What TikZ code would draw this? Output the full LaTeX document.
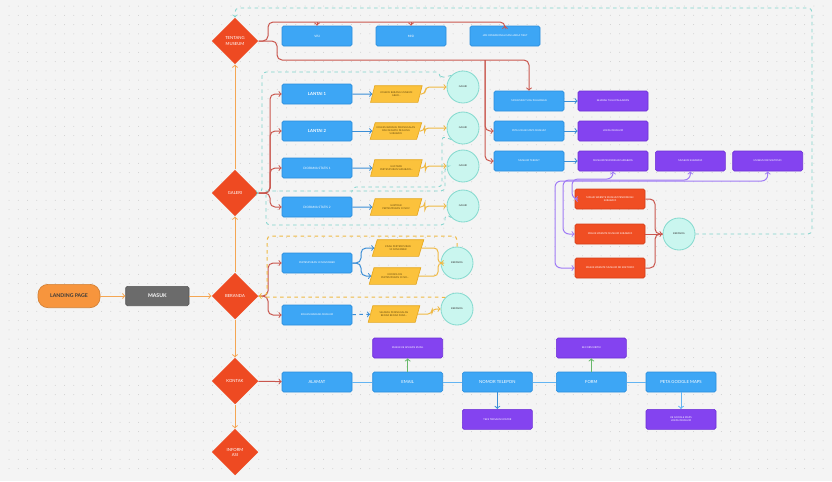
\documentclass[tikz,border=0pt]{standalone}
\usepackage{fontspec}
\setmainfont{Lato}
\usepackage{tikz}
\usetikzlibrary{arrows,shapes,positioning}

\definecolor{canvas}{HTML}{F4F4F4}
\definecolor{dotgrey}{HTML}{CFCFCF}
\definecolor{boxblue}{HTML}{3DA6F5}
\definecolor{boxblueline}{HTML}{2A8DDC}
\definecolor{boxpurple}{HTML}{8443F0}
\definecolor{boxpurpleline}{HTML}{6D30D6}
\definecolor{boxred}{HTML}{F04E23}
\definecolor{boxredline}{HTML}{D63E18}
\definecolor{dred}{HTML}{EE4A22}
\definecolor{slantyellow}{HTML}{FBC23C}
\definecolor{slantline}{HTML}{E5A822}
\definecolor{slanttext}{HTML}{6A4E10}
\definecolor{endteal}{HTML}{CAF6EF}
\definecolor{endline}{HTML}{86DACF}
\definecolor{darktext}{HTML}{3A3A3A}
\definecolor{startorange}{HTML}{F7953D}
\definecolor{masukgrey}{HTML}{6B6B6B}
\definecolor{trunkorange}{HTML}{F4A653}
\definecolor{branchred}{HTML}{C9564E}
\definecolor{flowblue}{HTML}{3B8ED6}
\definecolor{flowlightblue}{HTML}{63B4F2}
\definecolor{flowyellow}{HTML}{EFB944}
\definecolor{flowteal}{HTML}{7FD3CC}
\definecolor{flowpurple}{HTML}{A07CF5}
\definecolor{flowgreen}{HTML}{67B86A}

\newcommand{\szbig}{\fontsize{4.4}{5.2}\selectfont\bfseries}
\newcommand{\szmid}{\fontsize{3.6}{4.3}\selectfont}
\newcommand{\szsml}{\fontsize{2.6}{3.1}\selectfont}
\newcommand{\sztny}{\fontsize{2.1}{2.6}\selectfont}

\begin{document}
\begin{tikzpicture}[x=0.3mm, y=-0.3mm, >=to,
    every node/.style={align=center},
    box/.style={rectangle, rounded corners=0.5mm, minimum width=21mm, minimum height=6mm, inner sep=0.4mm, text=white, line width=0.2mm},
    bluebox/.style={box, fill=boxblue, draw=boxblueline, font=\szsml},
    purplebox/.style={box, fill=boxpurple, draw=boxpurpleline, font=\szsml},
    redbox/.style={box, fill=boxred, draw=boxredline, font=\sztny},
    choice/.style={diamond, fill=dred, text=white, minimum width=14mm, minimum height=14mm, inner sep=0pt, font=\szmid},
    slant/.style={trapezium, trapezium left angle=62, trapezium right angle=118, trapezium stretches=true, fill=slantyellow, draw=slantline, line width=0.2mm, minimum width=15.5mm, minimum height=5mm, inner sep=0.2mm, text=slanttext, font=\sztny},
    endpoint/.style={circle, fill=endteal, draw=endline, line width=0.25mm, minimum size=9.6mm, inner sep=0pt, text=darktext, font=\sztny},
    trunk/.style={draw=trunkorange, line width=0.3mm},
    branch/.style={draw=branchred, line width=0.3mm, rounded corners=1.5mm},
    blueflow/.style={draw=flowblue, line width=0.3mm, rounded corners=1.5mm},
    yellowflow/.style={draw=flowyellow, line width=0.3mm, rounded corners=1.2mm},
    backloop/.style={draw=flowteal, line width=0.25mm, dashed, rounded corners=1.2mm},
    purpleflow/.style={draw=flowpurple, line width=0.3mm, rounded corners=1.8mm}]

  % canvas with dot grid
  \fill[canvas] (0,0) rectangle (832,481);
  \foreach \i in {0,...,88}
    \foreach \j in {0,...,50}
      \fill[dotgrey] (9+\i*9.25,6+\j*9.25) circle (0.15mm);
  \useasboundingbox (0,0) rectangle (832,481);

  % main menu
  \node[choice] (tentang) at (235,41) {TENTANG\\MUSEUM};
  \node[choice] (galeri) at (235,193) {GALERI};
  \node[choice] (beranda) at (235,296) {BERANDA};
  \node[choice] (kontak) at (235,381) {KONTAK};
  \node[choice] (informasi) at (235,452) {INFORM\\ASI};
  \node[rectangle, rounded corners=3mm, fill=startorange, draw=startorange!85!black, line width=0.2mm, minimum width=18.6mm, minimum height=7mm, text=darktext, font=\szbig] (landing) at (69,296) {LANDING PAGE};
  \node[box, fill=masukgrey, draw=masukgrey!80!black, minimum width=19mm, minimum height=5.8mm, font=\szbig] (masuk) [right=7.5mm of landing] {MASUK};

  % tentang museum
  \node[bluebox] (visi) at (317,36) {VISI};
  \node[bluebox] (misi) at (411,36) {MISI};
  \node[bluebox, font=\sztny] (jam) at (505,36) {JAM OPERASIONAL DAN HARGA TIKET};
  \node[bluebox, font=\sztny] (sejarah) at (529,101) {MONUMEN TUGU PAHLAWAN};
  \node[bluebox, font=\sztny] (peta) at (529,131) {PETA LOKASI MAPS MUSEUM};
  \node[bluebox, font=\sztny] (terkait) at (529,161) {MUSEUM TERKAIT};
  \node[purplebox, font=\sztny] (sejarahp) [right=4mm of sejarah] {SEJARAH TUGU PAHLAWAN};
  \node[purplebox, font=\sztny] (lokasip) [right=4mm of peta] {LOKASI MUSEUM};
  \node[purplebox, font=\sztny] (mpend) [right=4mm of terkait] {MUSEUM PENDIDIKAN SURABAYA};
  \node[purplebox, font=\sztny] (msby) [right=2mm of mpend] {MUSEUM SURABAYA};
  \node[purplebox, font=\sztny] (msoet) [right=2mm of msby] {MUSEUM DR SOETOMO};
  \node[redbox] (web1) at (610,199) {MASUK WEBSITE MUSEUM PENDIDIKAN\\SURABAYA};
  \node[redbox] (web2) at (610,234) {MASUK WEBSITE MUSEUM SURABAYA};
  \node[redbox] (web3) at (610,268) {MASUK WEBSITE MUSEUM DR SOETOMO};
  \node[endpoint] (kembali) at (679,234) {BERANDA};

  % galeri
  \node[bluebox, font=\szmid\bfseries] (lantai1) at (317,94) {LANTAI 1};
  \node[bluebox, font=\szmid\bfseries] (lantai2) at (317,131) {LANTAI 2};
  \node[bluebox] (diorama1) at (317,168) {DIORAMA STATIS 1};
  \node[bluebox] (diorama2) at (317,207) {DIORAMA STATIS 2};
  \node[slant] (koleksi1) [right=6mm of lantai1] {KOLEKSI BARANG MUSEUM\\ABAD...};
  \node[slant] (koleksi2) [right=6mm of lantai2] {KOLEKSI BARANG PENINGGALAN\\DAN SENJATA PEJUANG\\SURABAYA};
  \node[slant] (ilustrasi1) [right=6mm of diorama1] {ILUSTRASI\\PERTEMPURAN SURABAYA...};
  \node[slant] (ilustrasi2) [right=6mm of diorama2] {ILUSTRASI\\PERTEMPURAN 10 NOV};
  \node[endpoint] (galeri1) at (463,87) {GALERI};
  \node[endpoint] (galeri2) at (463,128) {GALERI};
  \node[endpoint] (galeri3) at (463,166) {GALERI};
  \node[endpoint] (galeri4) at (463,206) {GALERI};

  % beranda
  \node[bluebox, font=\sztny] (pertempuran) at (317,263) {PERTEMPURAN 10 NOVEMBER};
  \node[bluebox, font=\sztny] (barang) at (317,315) {KOLEKSI BARANG MUSEUM};
  \node[slant] (kisah) at (398,248) {KISAH PERTEMPURAN\\10 NOVEMBER};
  \node[slant] (kronologi) at (395,276) {KRONOLOGI\\PERTEMPURAN 10 NO...};
  \node[slant] (peninggalan) at (394,314) {SEJARAH PENINGGALAN\\BENDA BENDA PADA...};
  \node[endpoint] (beranda1) at (457,263) {BERANDA};
  \node[endpoint] (beranda2) at (457,309) {BERANDA};

  % kontak
  \node[bluebox, font=\szmid] (alamat) at (317,382) {ALAMAT};
  \node[bluebox, font=\szmid] (email) [right=6mm of alamat] {EMAIL};
  \node[bluebox, font=\szmid] (telepon) [right=5.7mm of email] {NOMOR TELEPON};
  \node[bluebox, font=\szmid] (form) [right=7mm of telepon] {FORM};
  \node[bluebox, font=\szmid] (maps) [right=5.7mm of form] {PETA GOOGLE MAPS};
  \node[purplebox, font=\sztny] (emailp) [above=4mm of email] {MASUK KE APLIKASI EMAIL};
  \node[purplebox, font=\sztny] (teleponp) [below=5mm of telepon] {TEKS TERSALIN NOMOR};
  \node[purplebox, font=\sztny] (formp) [above=4mm of form] {KE FORM KRITIK};
  \node[purplebox, font=\sztny] (mapsp) [below=5mm of maps] {KE GOOGLE MAPS\\LOKASI MUSEUM};

  % trunk
  \draw[->, trunk] (landing) edge [] (masuk);
  \draw[->, trunk] (masuk) edge [] (beranda);
  \draw[->, trunk] (beranda) edge [] (galeri);
  \draw[->, trunk] (galeri) edge [] (tentang);
  \draw[->, trunk] (beranda) edge [] (kontak);
  \draw[->, trunk] (kontak) edge [] (informasi);

  % tentang museum links
  \draw[->, branch] (tentang.east) -- (268,41) -- (268,22) -| (jam.north);
  \draw[->, branch] (visi.north |- 0,22) -- (visi.north);
  \draw[->, branch] (misi.north |- 0,22) -- (misi.north);
  \draw[->, branch] (tentang.east) -- (277,41) -- (277,60) -| (sejarah.north);
  \draw[->, branch] (485,60) |- (peta.west);
  \draw[->, branch] (485,60) |- (terkait.west);
  \draw[->, blueflow] (sejarah) edge [] (sejarahp);
  \draw[->, blueflow] (peta) edge [] (lokasip);
  \draw[->, blueflow] (terkait) edge [] (mpend);
  \draw[<->, purpleflow] (mpend.south) |- (572,179) |- (web1.west);
  \draw[<->, purpleflow] (msby.south) |- (563,180) |- (web2.west);
  \draw[<->, purpleflow] (msoet.south) |- (555,181) |- (web3.west);
  \draw[branch] (web1.east) -- (655,199) |- (kembali.west);
  \draw[branch] (web3.east) -- (655,268) |- (kembali.west);
  \draw[->, branch] (web2) edge [] (kembali);
  \draw[->, backloop] (kembali.east) -| (812,8) -| (tentang.north);

  % galeri links
  \draw[->, branch] (galeri.east) -- (270,193) |- (lantai1.west);
  \draw[->, branch] (galeri.east) -- (270,193) |- (lantai2.west);
  \draw[->, branch] (galeri.east) -- (270,193) |- (diorama1.west);
  \draw[->, branch] (galeri.east) -- (270,193) |- (diorama2.west);
  \draw[->, blueflow] (lantai1) edge [] (koleksi1);
  \draw[->, blueflow] (lantai2) edge [] (koleksi2);
  \draw[->, blueflow] (diorama1) edge [] (ilustrasi1);
  \draw[->, blueflow] (diorama2) edge [] (ilustrasi2);
  \draw[->, yellowflow] (koleksi1.east) -- ++(5,0) |- (galeri1.west);
  \draw[->, yellowflow] (koleksi2.east) -- ++(5,0) |- (galeri2.west);
  \draw[->, yellowflow] (ilustrasi1.east) -- ++(5,0) |- (galeri3.west);
  \draw[->, yellowflow] (ilustrasi2.east) -- ++(5,0) |- (galeri4.west);
  \draw[->, backloop] (galeri1.north west) -- (440,78) -- (440,72) -- (262,72) -- (262,193) -- (galeri.east);
  \draw[backloop] (galeri3.west) -- (445,166) -- (445,191) -- (262,191);
  \draw[backloop] (galeri2.south west) -- (442,136) -- (442,187) -- (352,187) -- (352,191);
  \draw[backloop] (galeri4.south west) -- (445,214) -- (445,225) -- (266,225) -- (266,195);

  % beranda links
  \draw[->, branch] (beranda.east) -- (268,296) |- (pertempuran.west);
  \draw[->, branch] (beranda.east) -- (268,296) |- (barang.west);
  \draw[->, blueflow] (pertempuran.east) -- (361,263) |- (kisah.west);
  \draw[->, blueflow] (pertempuran.east) -- (361,263) |- (kronologi.west);
  \draw[->, blueflow, dashed] (barang) edge [] (peninggalan);
  \draw[->, yellowflow] (kisah.east) -- (438,248) |- (beranda1.west);
  \draw[yellowflow] (kronologi.east) -- (438,276) |- (beranda1.west);
  \draw[->, yellowflow] (peninggalan.east) -- (432,314) |- (beranda2.west);
  \draw[->, yellowflow, dashed] (beranda1.north) |- (267,236) -- (267,296) -- (beranda.east);
  \draw[yellowflow, dashed] (beranda2.north west) -- (432,297) -- (262,297);

  % kontak links
  \draw[->, branch] (kontak) edge [] (alamat);
  \draw[blueflow, draw=flowlightblue] (alamat) -- (email) -- (telepon) -- (form) -- (maps);
  \draw[->, blueflow, draw=flowgreen] (email) edge [] (emailp);
  \draw[->, blueflow, draw=flowgreen] (form) edge [] (formp);
  \draw[->, blueflow] (telepon) edge [] (teleponp);
  \draw[->, blueflow, draw=flowlightblue] (maps) edge [] (mapsp);
\end{tikzpicture}
\end{document}
